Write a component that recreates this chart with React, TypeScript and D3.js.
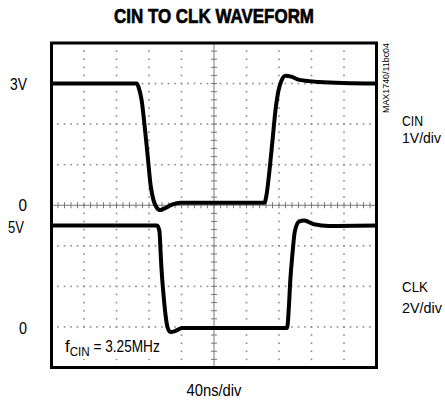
import React from "react";
import * as d3 from "d3";

// scope trace samples (time in ns, volts)
const cinTime = [0, 105, 107, 111, 114.6, 118.3, 122, 125.6, 129.3, 134, 140, 149, 158.5, 262, 264.6, 268.3, 272, 275.6, 279.3, 283, 288, 295, 305, 329, 400];
const cinVolts = [3.0, 3.0, 2.92, 2.58, 1.96, 1.23, 0.49, 0.12, -0.05, -0.12, -0.07, 0.02, 0.06, 0.06, 0.25, 0.86, 1.6, 2.33, 2.82, 3.07, 3.19, 3.17, 3.09, 3.04, 3.0];

const clkTime = [0, 130, 132.9, 134.1, 135.4, 137.8, 140.2, 142.7, 146.3, 152.4, 161, 290, 292, 294, 296.5, 299.5, 304.9, 311, 323, 341.5, 400];
const clkVolts = [5.0, 5.0, 4.71, 3.83, 2.85, 1.62, 0.64, 0.0, -0.25, -0.2, -0.05, -0.05, 0.88, 2.36, 3.58, 4.71, 5.2, 5.25, 5.06, 4.98, 5.0];

const cinLevels = ["3V", "0"];
const cinLevelValues = [3, 0];
const clkLevels = ["5V", "0"];
const clkLevelValues = [5, 0];

const W = 445;
const H = 402;

const App = () => {
  // 10 horizontal divisions of 40ns, 8 vertical divisions
  const x = d3.scaleLinear().domain([0, 400]).range([51.5, 376.5]);
  const yCin = d3.scaleLinear().domain([-4, 4]).range([367.5, 43]); // 1V/div
  const yClk = d3.scaleLinear().domain([-2, 14]).range([367.5, 43]); // 2V/div
  const yDiv = d3.scaleLinear().domain([0, 8]).range([367.5, 43]);

  const lineCin = d3
    .line<number>()
    .x((d, i) => x(cinTime[i]))
    .y((d) => yCin(d))
    .curve(d3.curveMonotoneX);
  const lineClk = d3
    .line<number>()
    .x((d, i) => x(clkTime[i]))
    .y((d) => yClk(d))
    .curve(d3.curveMonotoneX);

  const xSub = d3.range(0, 400.01, 8); // 5 minor per div
  const ySub = d3.range(0, 8.001, 0.2);
  const xMajor = d3.range(40, 400, 40);
  const yMajor = d3.range(1, 8, 1);

  const dots: JSX.Element[] = [];
  xMajor.forEach((t) => {
    if (t === 200) return;
    ySub.forEach((v, j) =>
      dots.push(<rect key={`v${t}-${j}`} x={x(t) - 0.8} y={yDiv(v) - 0.8} width={1.6} height={1.6} fill="#8a8a8a" />)
    );
  });
  yMajor.forEach((v) => {
    if (v === 4) return;
    xSub.forEach((t, j) =>
      dots.push(<rect key={`h${v}-${j}`} x={x(t) - 0.8} y={yDiv(v) - 0.8} width={1.6} height={1.6} fill="#8a8a8a" />)
    );
  });

  const font = "'Liberation Sans', Arial, sans-serif";

  return (
    <svg width={W} height={H} style={{ position: "absolute", left: 0, top: 0, background: "#fff" }}>
      <text x={214} y={23} textAnchor="middle" fontFamily={font} fontWeight="bold" fontSize={21} stroke="#000" strokeWidth={0.7} textLength={200} lengthAdjust="spacingAndGlyphs">
        CIN TO CLK WAVEFORM
      </text>

      {dots}

      {/* center crosshair with ticks */}
      <line x1={x(200)} x2={x(200)} y1={43} y2={367.5} stroke="#777" strokeWidth={1} />
      <line x1={51.5} x2={376.5} y1={yDiv(4)} y2={yDiv(4)} stroke="#777" strokeWidth={1} />
      {ySub.map((v, i) => (
        <line key={`ct${i}`} x1={x(200) - 3} x2={x(200) + 3} y1={yDiv(v)} y2={yDiv(v)} stroke="#777" strokeWidth={1} />
      ))}
      {xSub.map((t, i) => (
        <line key={`cx${i}`} x1={x(t)} x2={x(t)} y1={yDiv(4) - 3} y2={yDiv(4) + 3} stroke="#777" strokeWidth={1} />
      ))}

      {/* label box */}
      <rect x={54} y={334} width={114} height={25} fill="#fff" />

      <path d={lineCin(cinVolts) || ""} fill="none" stroke="#000" strokeWidth={4} strokeLinejoin="round" />
      <path d={lineClk(clkVolts) || ""} fill="none" stroke="#000" strokeWidth={4} strokeLinejoin="round" />

      <rect x={51.5} y={43} width={325} height={324.5} fill="none" stroke="#000" strokeWidth={3} />

      <text transform="translate(389,113) rotate(-90)" fontFamily={font} fontSize={9} textLength={70} lengthAdjust="spacingAndGlyphs">
        MAX1740/11bc04
      </text>

      {cinLevels.map((l, i) => (
        <text key={l + i} x={27} y={yCin(cinLevelValues[i]) + 6} textAnchor="end" fontFamily={font} fontSize={17} textLength={l.length * 8.5} lengthAdjust="spacingAndGlyphs">
          {l}
        </text>
      ))}
      {clkLevels.map((l, i) => (
        <text key={l + i} x={i === 0 ? 24 : 27} y={yClk(clkLevelValues[i]) + 7} textAnchor="end" fontFamily={font} fontSize={17} textLength={l.length * 8} lengthAdjust="spacingAndGlyphs">
          {l}
        </text>
      ))}

      <text x={402} y={126} fontFamily={font} fontSize={15} textLength={21} lengthAdjust="spacingAndGlyphs">CIN</text>
      <text x={402} y={143} fontFamily={font} fontSize={15} textLength={39} lengthAdjust="spacingAndGlyphs">1V/div</text>
      <text x={402} y={292} fontFamily={font} fontSize={15} textLength={26} lengthAdjust="spacingAndGlyphs">CLK</text>
      <text x={402} y={313} fontFamily={font} fontSize={15} textLength={40} lengthAdjust="spacingAndGlyphs">2V/div</text>
      <text x={214} y={396} textAnchor="middle" fontFamily={font} fontSize={16} textLength={55} lengthAdjust="spacingAndGlyphs">40ns/div</text>

      <text x={65} y={352} fontFamily={font} fontSize={17}>
        <tspan>f</tspan>
        <tspan dy={4} fontSize={12} textLength={20} lengthAdjust="spacingAndGlyphs">CIN</tspan>
        <tspan dy={-4} textLength={70} lengthAdjust="spacingAndGlyphs"> = 3.25MHz</tspan>
      </text>
    </svg>
  );
};

export default App;
